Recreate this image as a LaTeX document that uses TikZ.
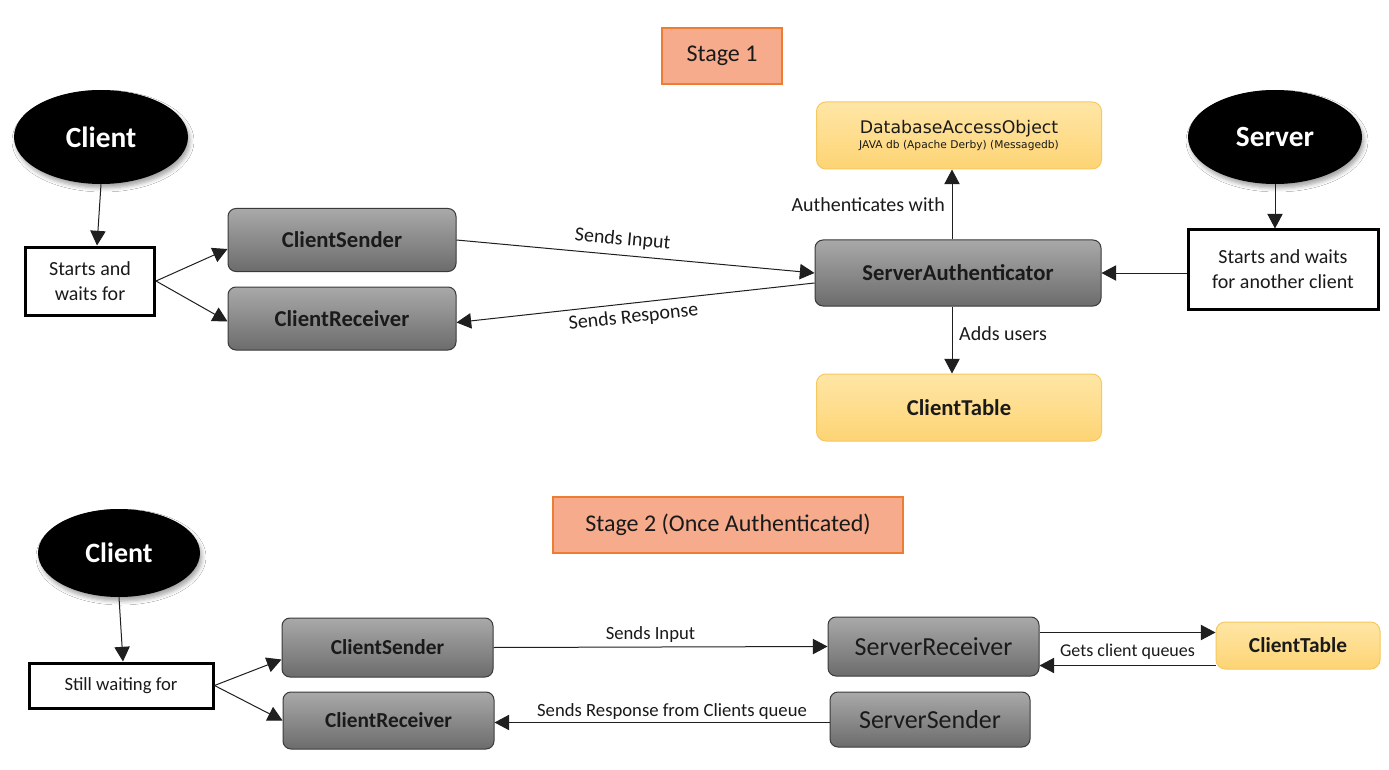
\documentclass[tikz,border=0pt]{standalone}
\usepackage{fontspec}
\setmainfont{Carlito}
\newfontfamily\dejavu{DejaVu Sans}
\usetikzlibrary{arrows.meta,calc,shapes.geometric,shadows.blur}

\definecolor{grayTop}{HTML}{A9A9A9}
\definecolor{grayBot}{HTML}{6C6C6C}
\definecolor{grayEdge}{HTML}{3A3A3A}
\definecolor{yelTop}{HTML}{FFE6A6}
\definecolor{yelBot}{HTML}{FDD474}
\definecolor{yelEdge}{HTML}{F7C860}
\definecolor{stageFill}{HTML}{F6AB8C}
\definecolor{stageEdge}{HTML}{ED7D31}
\definecolor{inkc}{HTML}{1A1A1A}

\begin{document}
\begin{tikzpicture}[x=0.75pt,y=-0.75pt,
  sz/.style 2 args={minimum width=#1*0.75pt, minimum height=#2*0.75pt},
  graybox/.style={rectangle, rounded corners=6pt, draw=grayEdge, line width=0.75pt,
    top color=grayTop, bottom color=grayBot, inner sep=0pt, text=inkc,
    font=\bfseries\fontsize{17}{20}\selectfont},
  yelbox/.style={rectangle, rounded corners=7pt, draw=yelEdge, line width=0.75pt,
    top color=yelTop, bottom color=yelBot, inner sep=0pt, text=inkc, align=center,
    font=\bfseries\fontsize{17}{20}\selectfont},
  stagebox/.style={rectangle, draw=stageEdge, line width=1.5pt, fill=stageFill,
    inner sep=0pt, text=inkc, font=\fontsize{18}{22}\selectfont},
  ellip/.style={ellipse, fill=black, inner sep=0pt, text=white,
    blur shadow={shadow xshift=1.5pt, shadow yshift=-3pt, shadow blur radius=3pt, shadow opacity=35},
    font=\bfseries\fontsize{22}{26}\selectfont},
  plainbox/.style={rectangle, draw=black, line width=2.25pt, fill=white, inner sep=0pt,
    align=center, text=inkc, font=\fontsize{15}{18.75}\selectfont},
  arr/.style={-{Triangle[length=11pt,width=11.5pt]}, line width=0.75pt, draw=black!88},
  lbl/.style={font=\fontsize{15}{18}\selectfont, text=inkc, inner sep=3pt},
  lbltwo/.style={font=\fontsize{14}{17}\selectfont, text=inkc, inner sep=3pt}
]
\useasboundingbox[fill=white] (0,0) rectangle (1389,770);

% ---------------- Stage 1 ----------------
\node[stagebox, sz={120}{56}] (st1) at (722,56) {Stage 1};

\node[ellip, sz={174}{94}] (c1) at (101,137) {Client};
\node[plainbox, sz={129}{68}] (sw1) at (90,281) {Starts and\\waits for};
\node[graybox, sz={228}{63}] (cs1) at (342,240) {ClientSender};
\node[graybox, sz={228}{63}] (cr1) at (342,318.5) {ClientReceiver};

\node[graybox, sz={286}{66}] (sa) at (958,273) {ServerAuthenticator};
\node[yelbox, sz={285}{67}, font=\mdseries] (dao) at (959,135.5)
  {{\dejavu\fontsize{13}{16}\selectfont DatabaseAccessObject}\\[-1pt]{\dejavu\fontsize{8}{10}\selectfont JAVA db (Apache Derby) (Messagedb)}};
\node[yelbox, sz={285}{67}] (ct1) at (959,407.5) {ClientTable};

\node[ellip, sz={174}{94}] (sv) at (1275,137) {Server};
\node[plainbox, sz={190}{79}] (swb) at (1283,269.5) {Starts and waits\\for another client};

\draw[arr] (c1.south) -- ($(sw1.north)+(7,0)$);
\draw[arr] (sw1.east) -- ($(cs1.west)+(0,9)$);
\draw[arr] (sw1.east) -- ($(cr1.west)+(0,3)$);
\draw[arr] (cs1.east) -- node[lbl, sloped, above, pos=0.46, inner sep=5pt] {Sends Input} (sa.west);
\draw[arr] ($(sa.west)+(0,10)$) -- node[lbl, sloped, below, pos=0.51, inner sep=4pt] {Sends Response} ($(cr1.east)+(0,4)$);
\draw[arr] ($(sa.north)+(-6,0)$) -- node[lbl, left, inner sep=5pt] {Authenticates with} ($(dao.south)+(-7,0)$);
\draw[arr] ($(sa.south)+(-6,0)$) -- node[lbl, right, pos=0.4, inner sep=5pt] {Adds users} ($(ct1.north)+(-7,0)$);
\draw[arr] (swb.west |- sa.east) -- (sa.east);
\draw[arr] (sv.south) -- (sv.south |- swb.north);

% ---------------- Stage 2 ----------------
\node[stagebox, sz={350}{56}] (st2) at (728,525) {Stage 2 (Once Authenticated)};

\node[ellip, sz={162}{88}, font=\bfseries\fontsize{21}{25}\selectfont] (c2) at (119,553) {Client};
\node[plainbox, sz={184}{45}, font=\fontsize{14}{17}\selectfont] (sw2) at (121,685.5) {Still waiting for};
\node[graybox, sz={211}{59}, font=\bfseries\fontsize{16}{19}\selectfont] (cs2) at (387.5,647.5) {ClientSender};
\node[graybox, sz={211}{57}, font=\bfseries\fontsize{16}{19}\selectfont] (cr2) at (388.5,720.5) {ClientReceiver};
\node[graybox, sz={211}{59}, font=\mdseries\fontsize{19.5}{23}\selectfont] (sr) at (933.5,646.5) {ServerReceiver};
\node[graybox, sz={200}{55}, font=\mdseries\fontsize{19.5}{23}\selectfont] (ss) at (930,719.5) {ServerSender};
\node[yelbox, sz={164}{47}, font=\bfseries\fontsize{16}{19}\selectfont] (ct2) at (1298,645.5) {ClientTable};

\draw[arr] (c2.south) -- ($(sw2.north)+(2,0)$);
\draw[arr] (sw2.east) -- ($(cs2.west)+(0,12)$);
\draw[arr] (sw2.east) -- (cr2.west);
\draw[arr] (cs2.east) -- node[lbltwo, above, pos=0.47] {Sends Input} (sr.west);
\coordinate (p1) at ($(sr.east)+(0,-14)$);
\coordinate (p2) at ($(ct2.west)+(0,20)$);
\draw[arr] (p1) -- (p1 -| ct2.west);
\draw[arr] (p2) -- node[lbltwo, above, inner sep=4pt, font=\fontsize{13.5}{16}\selectfont] {Gets client queues} (p2 -| sr.east);
\coordinate (p3) at ($(ss.west)+(0,3)$);
\draw[arr] (p3) -- node[lbltwo, above, pos=0.47, inner sep=2pt] {Sends Response from Clients queue} (p3 -| cr2.east);
\end{tikzpicture}
\end{document}
